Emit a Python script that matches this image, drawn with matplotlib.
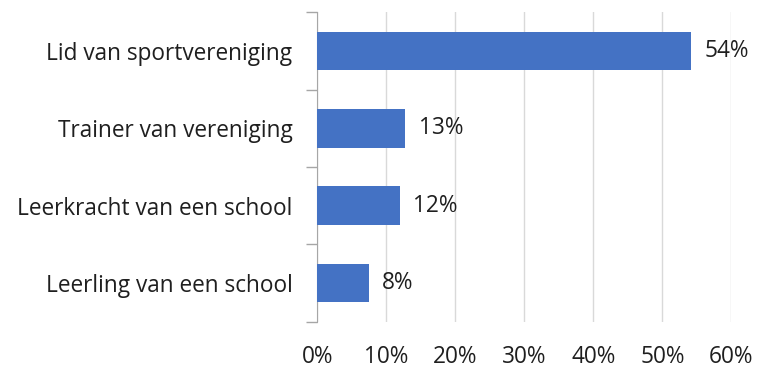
import matplotlib
matplotlib.use("Agg")
import matplotlib.pyplot as plt
from matplotlib.ticker import FixedLocator

categories = ["Lid van sportvereniging", "Trainer van vereniging",
              "Leerkracht van een school", "Leerling van een school"]
values = [54.1, 12.7, 11.9, 7.4]
value_labels = ["54%", "13%", "12%", "8%"]
xticks = [0, 10, 20, 30, 40, 50, 60]
xtick_labels = ["0%", "10%", "20%", "30%", "40%", "50%", "60%"]

plt.rcParams['font.family'] = ['Open Sans', 'DejaVu Sans']
text_color = "#1f1f1f"
fs = 16.3

fig = plt.figure(figsize=(7.57, 3.68), dpi=100)
ax = fig.add_axes([0.4194, 0.1258, 0.5469, 0.8408])

n = len(categories)
ypos = list(range(n))[::-1]
ax.barh(ypos, values, height=0.5, color="#4472C4", zorder=3)
for y, v, lab in zip(ypos, values, value_labels):
    ax.text(v + 2.0, y, lab, va="center", ha="left", fontsize=fs, color=text_color)

ax.set_xlim(0, 60)
ax.set_ylim(-0.5, n - 0.5)
ax.set_xticks(xticks)
ax.set_xticklabels(xtick_labels, fontsize=fs, color=text_color)
ax.tick_params(axis="x", length=0, pad=16.5)
ax.grid(axis="x", color="#d9d9d9", linewidth=1, zorder=0)

ax.set_yticks(ypos)
ax.set_yticklabels(categories, fontsize=fs, color=text_color)
ax.tick_params(axis="y", which="major", length=0, pad=18)
ax.yaxis.set_minor_locator(FixedLocator([i - 0.5 for i in range(n + 1)]))
ax.tick_params(axis="y", which="minor", length=8, color="#a6a6a6", width=1)

for s in ["top", "right", "bottom"]:
    ax.spines[s].set_visible(False)
ax.spines["left"].set_color("#a6a6a6")

fig.savefig("out.png", dpi=100)
